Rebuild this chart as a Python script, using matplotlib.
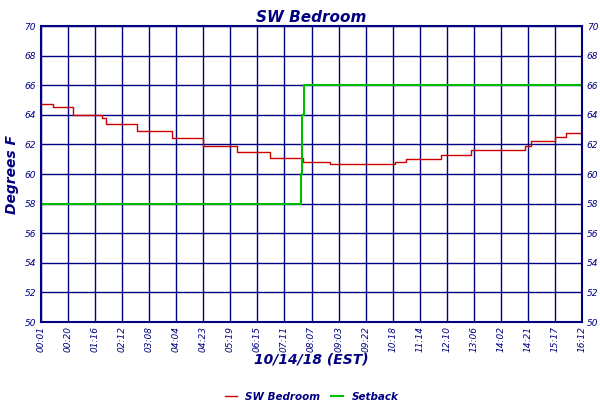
import matplotlib
matplotlib.use("Agg")
import matplotlib.pyplot as plt

# x positions are in tick-slot units (0 = first label, 20 = last)
tick_labels = ["00:01", "00:20", "01:16", "02:12", "03:08", "04:04", "04:23", "05:19",
               "06:15", "07:11", "08:07", "09:03", "09:22", "10:18", "11:14", "12:10",
               "13:06", "14:02", "14:21", "15:17", "16:12"]
room_x = [0, 0.45, 1.19, 2.26, 2.41, 3.56, 4.85, 6.0, 7.26, 8.48, 9.67, 10.7, 13.1, 13.5,
          14.8, 15.9, 17.9, 18.1, 19.0, 19.4, 20]
room_y = [64.7, 64.5, 64.0, 63.8, 63.4, 62.9, 62.4, 61.9, 61.5, 61.1, 60.8, 60.7, 60.8,
          61.0, 61.3, 61.6, 61.9, 62.2, 62.5, 62.8, 63.0]
setback_x = [0, 9.6, 9.65, 9.72, 20]
setback_y = [58, 60, 64, 66, 66]

NAVY = "#000080"
fig = plt.figure(figsize=(6, 4), dpi=100)
ax = fig.add_axes([41/600, 78/400, 541/600, 296/400])
ax.step(room_x, room_y, where="post", color="#cc0000", lw=1, label="SW Bedroom")
ax.step(setback_x, setback_y, where="post", color="#00bb00", lw=1.5, label="Setback")

n = len(tick_labels)
ax.set_xlim(0, n - 1)
ax.set_ylim(50, 70)
ax.set_xticks(range(n))
ax.set_xticklabels(tick_labels, rotation=90, fontsize=6.5, color=NAVY, style="italic")
ax.set_yticks(range(50, 71, 2))
ax.tick_params(axis="y", labelsize=6.5, colors=NAVY, right=True, labelright=True, length=0)
for lab in ax.get_yticklabels() + ax.get_yticklabels(which="both"):
    lab.set_style("italic")
ax.tick_params(axis="x", length=0, colors=NAVY, pad=3)
ax.grid(True, color=NAVY, lw=1)
for s in ax.spines.values():
    s.set_color(NAVY)
    s.set_linewidth(1.5)
ax.set_title("SW Bedroom", fontsize=11, color=NAVY, style="italic", weight="bold", pad=3)
ax.set_ylabel("Degrees F", fontsize=10, color=NAVY, style="italic", weight="bold")
ax.set_xlabel("10/14/18 (EST)", fontsize=10, color=NAVY, style="italic", weight="bold", labelpad=0)
leg = ax.legend(loc="upper center", bbox_to_anchor=(0.5, -0.205), ncol=2, frameon=False,
                fontsize=7.5, handlelength=1.2, columnspacing=1.0)
for t in leg.get_texts():
    t.set_color(NAVY)
    t.set_style("italic")
    t.set_weight("bold")
fig.savefig("out.png", dpi=100)
